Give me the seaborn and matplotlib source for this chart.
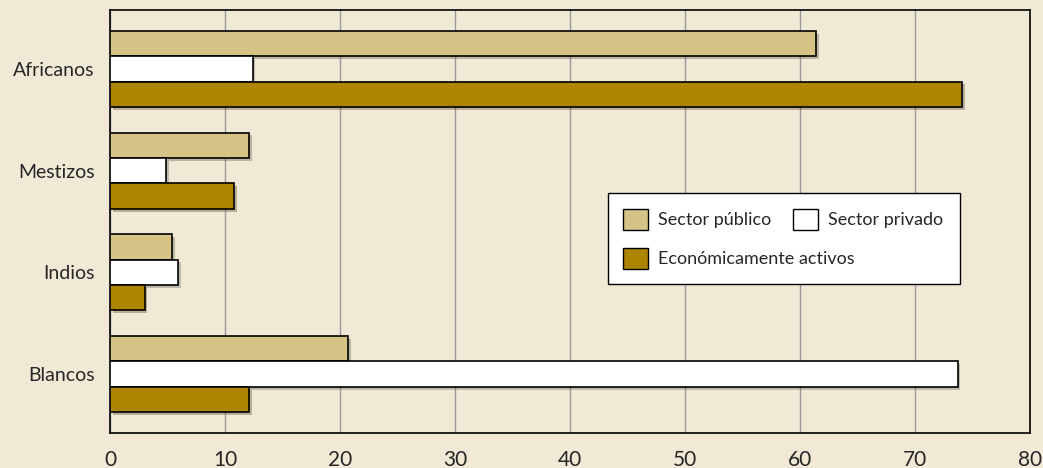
import pandas as pd
import numpy as np
import matplotlib
matplotlib.use("Agg")
import matplotlib.pyplot as plt
import matplotlib.patheffects as pe
from matplotlib.patches import Patch, Rectangle
import seaborn as sns

# --- datos ---
grupos = ["Africanos", "Mestizos", "Indios", "Blancos"]
series = ["Sector público", "Sector privado", "Económicamente activos"]
sector_publico = [61.4, 12.1, 5.4, 20.7]
sector_privado = [12.4, 4.9, 5.9, 73.7]
econ_activos = [74.1, 10.8, 3.0, 12.1]
x_ticks = [0, 10, 20, 30, 40, 50, 60, 70, 80]

df = pd.DataFrame({
    "grupo": grupos * 3,
    "serie": [series[0]] * 4 + [series[1]] * 4 + [series[2]] * 4,
    "valor": sector_publico + sector_privado + econ_activos,
})

bg = "#F0E9D6"
colores = {series[0]: "#D6C486", series[1]: "#FFFFFF", series[2]: "#AD8500"}

sns.set_theme(style="white")
plt.rcParams["font.family"] = ["Lato", "DejaVu Sans"]

fig = plt.figure(figsize=(10.43, 4.68), dpi=100, facecolor=bg)
ax = fig.add_axes([110 / 1043, 35 / 468, 920 / 1043, 423 / 468])
ax.set_facecolor(bg)

sns.barplot(data=df, y="grupo", x="valor", hue="serie", order=grupos,
            hue_order=series, palette=colores, saturation=1, orient="h",
            width=0.75, gap=0, edgecolor="black", linewidth=1.2, ax=ax,
            legend=False, zorder=3)

for p in ax.patches:
    p.set_path_effects([pe.SimplePatchShadow(offset=(2, -2), alpha=0.3), pe.Normal()])

ax.set_xlim(0, 80)
ax.set_ylim(3.58, -0.58)
ax.set_xticks(x_ticks)
ax.set_xticklabels([str(t) for t in x_ticks], fontsize=15)
ax.tick_params(axis="x", direction="out", length=10, width=0.8, color="black", pad=2)
ax.tick_params(axis="y", length=0, labelsize=14, pad=11)
ax.xaxis.grid(True, color="#999999", linewidth=1.0, zorder=0)
ax.set_axisbelow(True)
ax.set_xlabel("")
ax.set_ylabel("")
for s in ax.spines.values():
    s.set_color("black")
    s.set_linewidth(1.2)


def ax_pos(px, py):
    return ((px - 110) / 920, (433 - py) / 423)


# caja de la leyenda
x0, y0 = ax_pos(608, 284)
x1, y1 = ax_pos(960, 193)
ax.add_patch(Rectangle((x0, y0), x1 - x0, y1 - y0, transform=ax.transAxes,
                       facecolor="white", edgecolor="black", linewidth=1.0,
                       zorder=5))


def hnd(s):
    return Patch(facecolor=colores[s], edgecolor="black", linewidth=1.0, label=s)


kw = dict(frameon=False, fontsize=13, handlelength=1.4, handleheight=1.4,
          borderpad=0, borderaxespad=0, handletextpad=0.55, columnspacing=1.2)
leg1 = ax.legend(handles=[hnd(series[0]), hnd(series[1])], ncol=2,
                 loc="upper left", bbox_to_anchor=ax_pos(623, 209), **kw)
leg1.set_zorder(6)
ax.add_artist(leg1)
leg2 = ax.legend(handles=[hnd(series[2])], ncol=1,
                 loc="upper left", bbox_to_anchor=ax_pos(623, 248), **kw)
leg2.set_zorder(6)

fig.savefig("out.png", dpi=100, facecolor=bg)
